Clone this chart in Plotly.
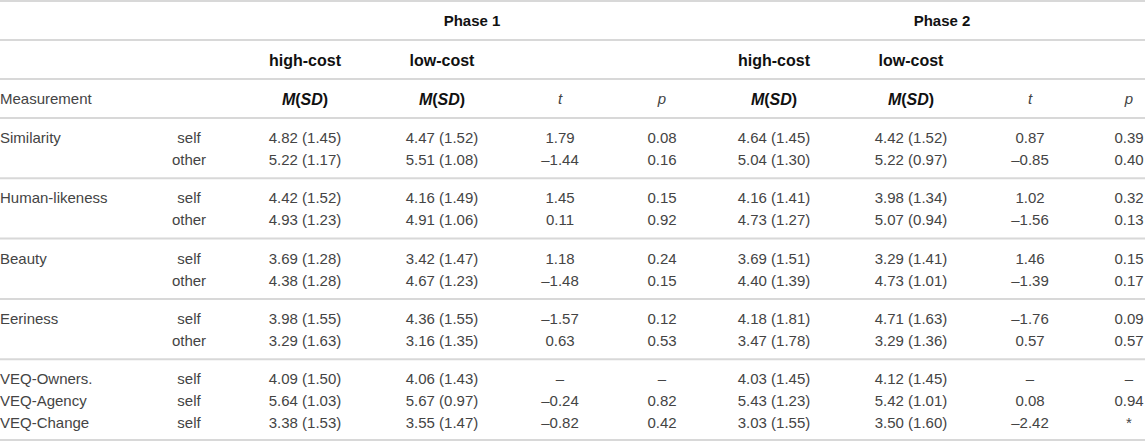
import plotly.graph_objects as go

# row labels
measures = ["Similarity", "Human-likeness", "Beauty", "Eeriness"]
veq_items = ["VEQ-Owners.", "VEQ-Agency", "VEQ-Change"]
targets = ["self", "other"]

# Phase 1 (rows: 4 measures x self/other, then 3 VEQ rows)
p1_high_m = [4.82, 5.22, 4.42, 4.93, 3.69, 4.38, 3.98, 3.29, 4.09, 5.64, 3.38]
p1_high_sd = [1.45, 1.17, 1.52, 1.23, 1.28, 1.28, 1.55, 1.63, 1.50, 1.03, 1.53]
p1_low_m = [4.47, 5.51, 4.16, 4.91, 3.42, 4.67, 4.36, 3.16, 4.06, 5.67, 3.55]
p1_low_sd = [1.52, 1.08, 1.49, 1.06, 1.47, 1.23, 1.55, 1.35, 1.43, 0.97, 1.47]
p1_t = [1.79, -1.44, 1.45, 0.11, 1.18, -1.48, -1.57, 0.63, None, -0.24, -0.82]
p1_p = [0.08, 0.16, 0.15, 0.92, 0.24, 0.15, 0.12, 0.53, None, 0.82, 0.42]

# Phase 2
p2_high_m = [4.64, 5.04, 4.16, 4.73, 3.69, 4.40, 4.18, 3.47, 4.03, 5.43, 3.03]
p2_high_sd = [1.45, 1.30, 1.41, 1.27, 1.51, 1.39, 1.81, 1.78, 1.45, 1.23, 1.55]
p2_low_m = [4.42, 5.22, 3.98, 5.07, 3.29, 4.73, 4.71, 3.29, 4.12, 5.42, 3.50]
p2_low_sd = [1.52, 0.97, 1.34, 0.94, 1.41, 1.01, 1.63, 1.36, 1.45, 1.01, 1.60]
p2_t = [0.87, -0.85, 1.02, -1.56, 1.46, -1.39, -1.76, 0.57, None, 0.08, -2.42]
p2_p = [0.39, 0.40, 0.32, 0.13, 0.15, 0.17, 0.09, 0.57, None, 0.94, "*"]

W, H = 1145, 442
FONT = "Liberation Sans, Arial, Helvetica, sans-serif"
REG = "#444444"
BOLD = "#111111"
RULE = "#d8d8d8"

HEAD_H = 39
ROW_H = 22
GROUP_PAD = 16.3
TEXT_DY = 2  # nudge text down to sit like the reference


def num(v):
    if v is None:
        return "–"
    if isinstance(v, str):
        return v
    return f"{v:.2f}".replace("-", "–")


def msd(m, sd):
    return [f"{a:.2f} ({b:.2f})" for a, b in zip(m, sd)]


# vertical layout: three header rows, then groups of rows
header_y = [HEAD_H * i + HEAD_H / 2 + 1 + TEXT_DY for i in range(3)]
groups = [2] * len(measures) + [len(veq_items)]
rules = [0, HEAD_H, 2 * HEAD_H, 3 * HEAD_H]
row_y = []
top = 3 * HEAD_H
for n in groups:
    for k in range(n):
        row_y.append(top + GROUP_PAD / 2 + ROW_H * k + ROW_H / 2 + 1 + TEXT_DY)
    top += n * ROW_H + GROUP_PAD
    rules.append(top)
rules[-1] = min(rules[-1], H - 3)

label_col = []
for m in measures:
    label_col += [m, ""]
label_col += veq_items
target_col = targets * len(measures) + ["self"] * len(veq_items)

# column centres
cols = {"label": 0, "target": 189,
        "p1_high": 305, "p1_low": 442, "p1_t": 560, "p1_p": 662,
        "p2_high": 774, "p2_low": 911, "p2_t": 1030, "p2_p": 1129}

fig = go.Figure()


def add_text(x, y, text, color=REG, pos="middle center", size=15):
    fig.add_trace(go.Scatter(
        x=x, y=y, text=text, mode="text", textposition=pos,
        textfont=dict(family=FONT, size=size, color=color),
        hoverinfo="skip", showlegend=False, cliponaxis=False))


# horizontal rules
rx, ry = [], []
for r in rules:
    rx += [0, W, None]
    ry += [r + 1, r + 1, None]
fig.add_trace(go.Scatter(x=rx, y=ry, mode="lines", line=dict(color=RULE, width=2),
                         hoverinfo="skip", showlegend=False))

# header rows
add_text([472, 942], [header_y[0]] * 2, ["<b>Phase 1</b>", "<b>Phase 2</b>"], BOLD)
add_text([cols["p1_high"], cols["p1_low"], cols["p2_high"], cols["p2_low"]], [header_y[1]] * 4,
         ["<b>high-cost</b>", "<b>low-cost</b>"] * 2, BOLD, size=16)
add_text([cols["label"]], [header_y[2]], ["Measurement"], REG, "middle right")
msd_head = "<b><i>M</i>(<i>SD</i>)</b>"
add_text([cols["p1_high"], cols["p1_low"], cols["p2_high"], cols["p2_low"]], [header_y[2]] * 4,
         [msd_head] * 4, BOLD, size=16)
add_text([cols["p1_t"], cols["p1_p"], cols["p2_t"], cols["p2_p"]], [header_y[2]] * 4,
         ["<i>t</i>", "<i>p</i>"] * 2, REG)

# body
add_text([cols["label"]] * len(row_y), row_y, label_col, REG, "middle right")
add_text([cols["target"]] * len(row_y), row_y, target_col)
add_text([cols["p1_high"]] * len(row_y), row_y, msd(p1_high_m, p1_high_sd))
add_text([cols["p1_low"]] * len(row_y), row_y, msd(p1_low_m, p1_low_sd))
add_text([cols["p1_t"]] * len(row_y), row_y, [num(v) for v in p1_t])
add_text([cols["p1_p"]] * len(row_y), row_y, [num(v) for v in p1_p])
add_text([cols["p2_high"]] * len(row_y), row_y, msd(p2_high_m, p2_high_sd))
add_text([cols["p2_low"]] * len(row_y), row_y, msd(p2_low_m, p2_low_sd))
add_text([cols["p2_t"]] * len(row_y), row_y, [num(v) for v in p2_t])
add_text([cols["p2_p"]] * len(row_y), row_y, [num(v) for v in p2_p])

fig.update_layout(
    width=W, height=H,
    margin=dict(l=0, r=0, t=0, b=0),
    paper_bgcolor="white", plot_bgcolor="white",
    xaxis=dict(range=[0, W], visible=False, fixedrange=True),
    yaxis=dict(range=[H, 0], visible=False, fixedrange=True),
)

fig.write_html("out.html", config={"displayModeBar": False},
               post_script="document.body.style.margin='0';document.body.style.overflow='hidden';")
